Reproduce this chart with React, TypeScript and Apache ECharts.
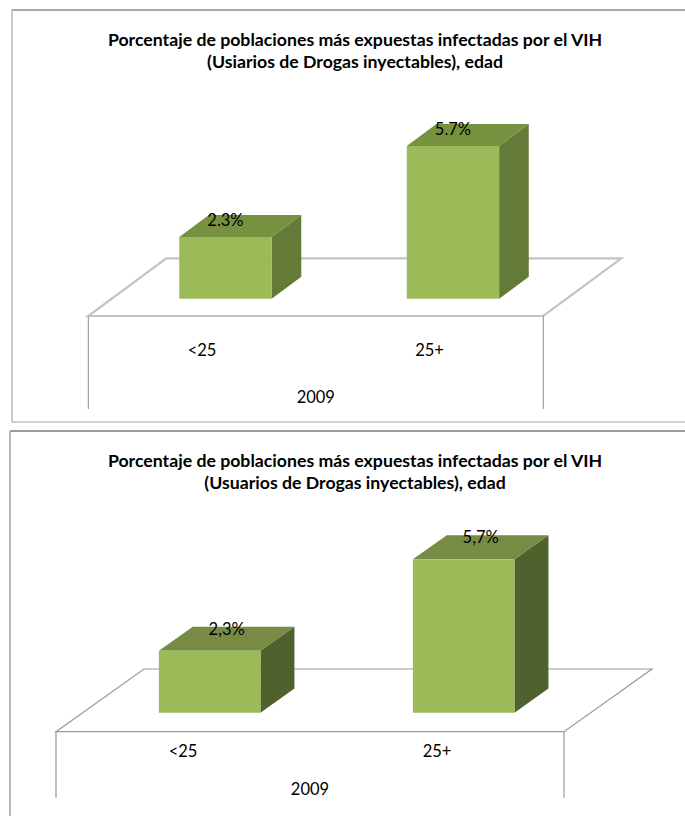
import React, { useEffect, useRef } from "react";
import * as echarts from "echarts";

// Age groups, survey year and the two sets of prevalence values (%)
const categories = ["<25", "25+"];
const yearLabel = ["2009"];
const valuesTop = [2.3, 5.7];
const valuesBottom = [2.3, 5.7];

const titleTopText =
  "Porcentaje de poblaciones más expuestas infectadas por el VIH\n(Usiarios de Drogas inyectables), edad";
const titleBottomText =
  "Porcentaje de poblaciones más expuestas infectadas por el VIH\n(Usuarios de Drogas inyectables), edad";

const FONT = "Lato, 'Noto Sans', sans-serif";
const Y_MAX = 8;

type Panel = {
  title: string;
  values: number[];
  decimal: string;
  box: { x: number; y: number; h: number; topW: number; sideW: number; color: string };
  titleY: number;
  grid: { left: number; width: number; baseY: number };
  pxPerUnit: number;
  floorDepth: [number, number];
  barDepth: [number, number];
  barWidth: number;
  frontDrop: number;
  catMargin: number;
  yearMargin: number;
  colors: { front: string; top: string; side: string };
  floorLine: { color: string; width: number };
  dropLine: { color: string; width: number };
  labelShift: number;
  labelDy: number;
};

const panels: Panel[] = [
  {
    title: titleTopText,
    values: valuesTop,
    decimal: ".",
    box: { x: 12, y: 10, h: 412, topW: 2, sideW: 1.2, color: "#a8a8a8" },
    titleY: 28,
    grid: { left: 88.3, width: 455, baseY: 316 },
    pxPerUnit: 26.8,
    floorDepth: [78, -57.7],
    barDepth: [0.3, 0.68],
    barWidth: 0.406,
    frontDrop: 93,
    catMargin: 25,
    yearMargin: 72,
    colors: { front: "#9BBB59", top: "#77923F", side: "#647A37" },
    floorLine: { color: "#c4c4c4", width: 2.2 },
    dropLine: { color: "#8c8c8c", width: 1 },
    labelShift: 0,
    labelDy: 4.5,
  },
  {
    title: titleBottomText,
    values: valuesBottom,
    decimal: ",",
    box: { x: 10, y: 431, h: 420, topW: 2, sideW: 1.5, color: "#9c9c9c" },
    titleY: 449,
    grid: { left: 56, width: 508, baseY: 731.7 },
    pxPerUnit: 26.9,
    floorDepth: [88, -62.7],
    barDepth: [0.303, 0.689],
    barWidth: 0.4,
    frontDrop: 66,
    catMargin: 11,
    yearMargin: 49,
    colors: { front: "#9BBB59", top: "#778B45", side: "#4F612D" },
    floorLine: { color: "#9a9a9a", width: 1.2 },
    dropLine: { color: "#9a9a9a", width: 1.2 },
    labelShift: 0.5,
    labelDy: 2,
  },
];

function floorSeries(p: Panel, idx: number) {
  return {
    type: "custom",
    xAxisIndex: idx * 2,
    yAxisIndex: idx,
    silent: true,
    clip: false,
    z: 1,
    data: [[0, 0]],
    renderItem: (params: any, api: any) => {
      const band = api.size([1, 0])[0];
      const first = api.coord([0, 0]);
      const last = api.coord([categories.length - 1, 0]);
      const xl = first[0] - band / 2;
      const xr = last[0] + band / 2;
      const y = first[1];
      const [dx, dy] = p.floorDepth;
      const line = { stroke: p.floorLine.color, lineWidth: p.floorLine.width, fill: "none" };
      const drop = { stroke: p.dropLine.color, lineWidth: p.dropLine.width };
      return {
        type: "group",
        children: [
          {
            type: "polygon",
            shape: { points: [[xl, y], [xr, y], [xr + dx, y + dy], [xl + dx, y + dy]] },
            style: line,
          },
          { type: "line", shape: { x1: xl, y1: y, x2: xl, y2: y + p.frontDrop }, style: drop },
          { type: "line", shape: { x1: xr, y1: y, x2: xr, y2: y + p.frontDrop }, style: drop },
        ],
      };
    },
  };
}

function barSeries(p: Panel, idx: number) {
  return {
    type: "custom",
    xAxisIndex: idx * 2,
    yAxisIndex: idx,
    clip: false,
    z: 2,
    data: p.values.map((v, i) => [i, v]),
    renderItem: (params: any, api: any) => {
      const i = api.value(0);
      const v = api.value(1);
      const base = api.coord([i, 0]);
      const topPt = api.coord([i, v]);
      const band = api.size([1, 0])[0];
      const h = base[1] - topPt[1];
      const w = band * p.barWidth;
      const [fdx, fdy] = p.floorDepth;
      const fx = base[0] + fdx * p.barDepth[0] - w / 2;
      const fy = base[1] + fdy * p.barDepth[0];
      const span = p.barDepth[1] - p.barDepth[0];
      const ddx = fdx * span;
      const ddy = fdy * span;
      const ty = fy - h;
      const text = v.toFixed(1).replace(".", p.decimal) + "%";
      return {
        type: "group",
        children: [
          {
            type: "polygon",
            shape: { points: [[fx + w, fy], [fx + w, ty], [fx + w + ddx, ty + ddy], [fx + w + ddx, fy + ddy]] },
            style: { fill: p.colors.side },
          },
          {
            type: "polygon",
            shape: { points: [[fx, ty], [fx + w, ty], [fx + w + ddx, ty + ddy], [fx + ddx, ty + ddy]] },
            style: { fill: p.colors.top },
          },
          {
            type: "rect",
            shape: { x: fx, y: ty, width: w, height: h },
            style: { fill: p.colors.front },
          },
          {
            type: "text",
            x: fx + w / 2 + ddx * p.labelShift,
            y: ty + ddy + p.labelDy,
            style: {
              text,
              fill: "#000",
              fontFamily: FONT,
              fontSize: 16.5,
              align: "center",
              verticalAlign: "middle",
            },
          },
        ],
      };
    },
  };
}

const labelStyle = { color: "#000", fontFamily: FONT, fontSize: 16.5 };

export default function App() {
  const ref = useRef<HTMLDivElement>(null);

  useEffect(() => {
    if (!ref.current) return;
    const chart = echarts.init(ref.current, undefined, { renderer: "svg" });

    const grids = panels.map((p) => ({
      left: p.grid.left,
      width: p.grid.width,
      top: p.grid.baseY - Y_MAX * p.pxPerUnit,
      height: Y_MAX * p.pxPerUnit,
      containLabel: false,
    }));

    const xAxes: any[] = [];
    panels.forEach((p, idx) => {
      xAxes.push({
        type: "category",
        gridIndex: idx,
        data: categories,
        position: "bottom",
        axisLine: { show: false },
        axisTick: { show: false },
        splitLine: { show: false },
        axisLabel: { ...labelStyle, margin: p.catMargin, interval: 0 },
      });
      xAxes.push({
        type: "category",
        gridIndex: idx,
        data: yearLabel,
        position: "bottom",
        axisLine: { show: false },
        axisTick: { show: false },
        splitLine: { show: false },
        axisLabel: { ...labelStyle, margin: p.yearMargin, interval: 0 },
      });
    });

    const yAxes = panels.map((p, idx) => ({
      type: "value",
      gridIndex: idx,
      min: 0,
      max: Y_MAX,
      show: false,
      splitLine: { show: false },
    }));

    const graphics: any[] = [];
    panels.forEach((p) => {
      const b = p.box;
      graphics.push(
        { type: "line", shape: { x1: b.x, y1: b.y, x2: 700, y2: b.y }, style: { stroke: b.color, lineWidth: b.topW } },
        { type: "line", shape: { x1: b.x, y1: b.y, x2: b.x, y2: b.y + b.h }, style: { stroke: b.color, lineWidth: b.sideW } },
        { type: "line", shape: { x1: b.x, y1: b.y + b.h, x2: 700, y2: b.y + b.h }, style: { stroke: b.color, lineWidth: b.sideW } }
      );
    });

    chart.setOption({
      animation: false,
      backgroundColor: "#ffffff",
      title: panels.map((p) => ({
        text: p.title,
        left: 355,
        top: p.titleY,
        padding: 0,
        textAlign: "center",
        textStyle: {
          fontFamily: FONT,
          fontWeight: "bold",
          fontSize: 17.7,
          lineHeight: 22.5,
          color: "#000",
        },
      })),
      grid: grids,
      xAxis: xAxes,
      yAxis: yAxes,
      graphic: graphics,
      series: panels.flatMap((p, idx) => [floorSeries(p, idx), barSeries(p, idx)]),
    });

    return () => chart.dispose();
  }, []);

  return (
    <div
      ref={ref}
      style={{ position: "fixed", left: 0, top: 0, width: 685, height: 816, background: "#fff" }}
    />
  );
}
